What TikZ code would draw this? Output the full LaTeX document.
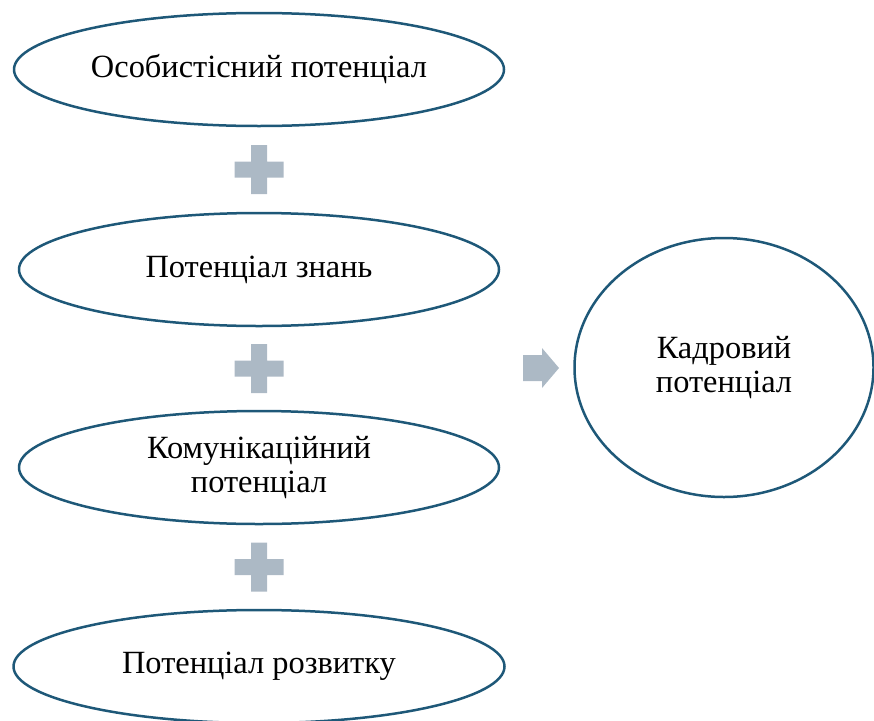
\documentclass[tikz,border=0pt]{standalone}
\usepackage{fontspec}
\setmainfont{Liberation Serif}
\usetikzlibrary{shapes.geometric,calc}
\definecolor{potblue}{RGB}{30,88,120}
\definecolor{signgray}{RGB}{172,185,197}
\tikzset{
  potell/.style={ellipse,draw=potblue,line width=2.5pt,inner sep=0pt,outer sep=0pt,
    align=center,font=\fontsize{32.4}{34}\selectfont},
}
\begin{document}
\begin{tikzpicture}[x=1pt,y=-1pt,line join=round]
	\useasboundingbox (0,0) rectangle (874,720);
	\node[potell,minimum width=490pt,minimum height=113pt] (osob) at (259,69.5) {Особистісний потенціал};
	\node[potell,minimum width=480pt,minimum height=113pt] (znan) at (259,269.5) {Потенціал знань};
	\node[potell,minimum width=480pt,minimum height=113pt] (komun) at (259,467.5) {Комунікаційний\\потенціал};
	\node[potell,minimum width=491pt,minimum height=113pt] (rozv) at (259,666.5) {Потенціал розвитку};
	\node[potell,minimum width=299pt,minimum height=259pt] (kadr) at (724,367.5) {Кадровий\\потенціал};
	% plus signs
	\foreach \a/\b in {osob/znan,znan/komun,komun/rozv}
		\fill[signgray] ($(\a)!0.5!(\b)$) +(-24.5,-8) rectangle +(24.5,8) +(-8,-24.5) rectangle +(8,24.5);
	% arrow to the result
	\fill[signgray] (523,355) -- (542,355) -- (542,348) -- (559,368) -- (542,388) -- (542,381) -- (523,381) -- cycle;
\end{tikzpicture}
\end{document}
